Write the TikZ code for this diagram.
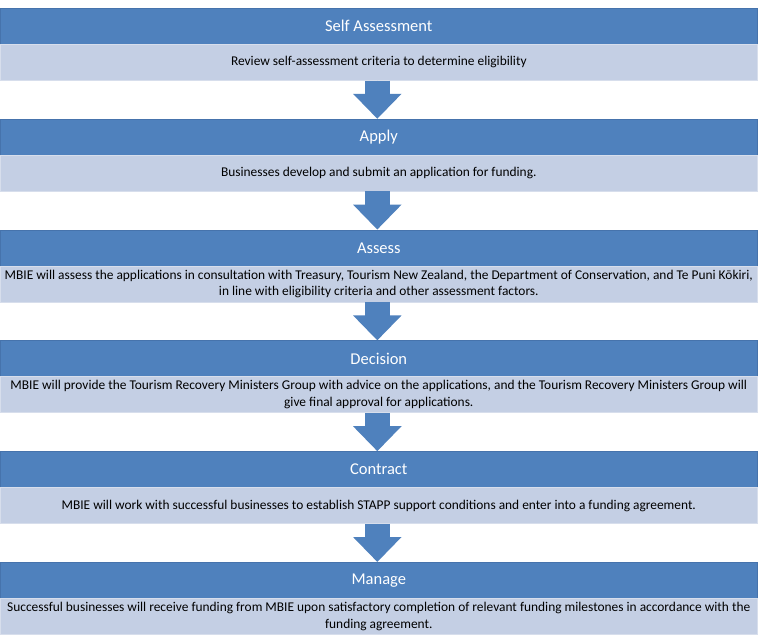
\documentclass[tikz,border=0pt]{standalone}
\usepackage{fontspec}
\setmainfont{Carlito}
\usetikzlibrary{arrows.meta}
\definecolor{hdblue}{RGB}{79,129,189}
\definecolor{bdblue}{RGB}{196,207,228}
\definecolor{hdedge}{RGB}{70,115,172}
\definecolor{bdedge}{RGB}{215,222,236}
\tikzset{
  header/.style={rectangle, fill=hdblue, draw=hdedge, line width=0.6pt, anchor=north west,
    minimum width=757pt, minimum height=36pt, inner sep=0pt, text=white,
    font=\fontsize{16.5}{19}\selectfont},
  body/.style={rectangle, fill=bdblue, draw=bdedge, line width=0.6pt, anchor=north west,
    minimum width=757pt, minimum height=36pt, inner sep=0pt, text=black, align=center,
    font=\fontsize{13.4}{16.6}\selectfont},
  blockarrow/.style={draw=hdblue, line width=25pt, line cap=butt,
    -{Triangle[width=47pt,length=25pt]}, fill=hdblue}
}
\begin{document}
\begin{tikzpicture}[x=1pt,y=-1pt]
\useasboundingbox[fill=white] (0,0) rectangle (758,644);
\node[header] (h1) at (0,8) {Self Assessment};
\node[body] (b1) at (0,44) {Review self-assessment criteria to determine eligibility};
\node[header] (h2) at (0,118.8) {Apply};
\node[body] (b2) at (0,154.8) {Businesses develop and submit an application for funding.};
\node[header] (h3) at (0,229.6) {Assess};
\node[body] (b3) at (0,265.6) {MBIE will assess the applications in consultation with Treasury, Tourism New Zealand, the Department of Conservation, and Te Puni Kōkiri,\\in line with eligibility criteria and other assessment factors.};
\node[header] (h4) at (0,340.4) {Decision};
\node[body] (b4) at (0,376.4) {MBIE will provide the Tourism Recovery Ministers Group with advice on the applications, and the Tourism Recovery Ministers Group will\\give final approval for applications.};
\node[header] (h5) at (0,451.2) {Contract};
\node[body] (b5) at (0,487.2) {MBIE will work with successful businesses to establish STAPP support conditions and enter into a funding agreement.};
\node[header] (h6) at (0,562) {Manage};
\node[body] (b6) at (0,598) {Successful businesses will receive funding from MBIE upon satisfactory completion of relevant funding milestones in accordance with the\\funding agreement.};
\foreach \a/\b in {b1/h2,b2/h3,b3/h4,b4/h5,b5/h6}{
  \draw[blockarrow] ([xshift=-1.5pt]\a.south) -- ([xshift=-1.5pt]\b.north);
}
\end{tikzpicture}
\end{document}
